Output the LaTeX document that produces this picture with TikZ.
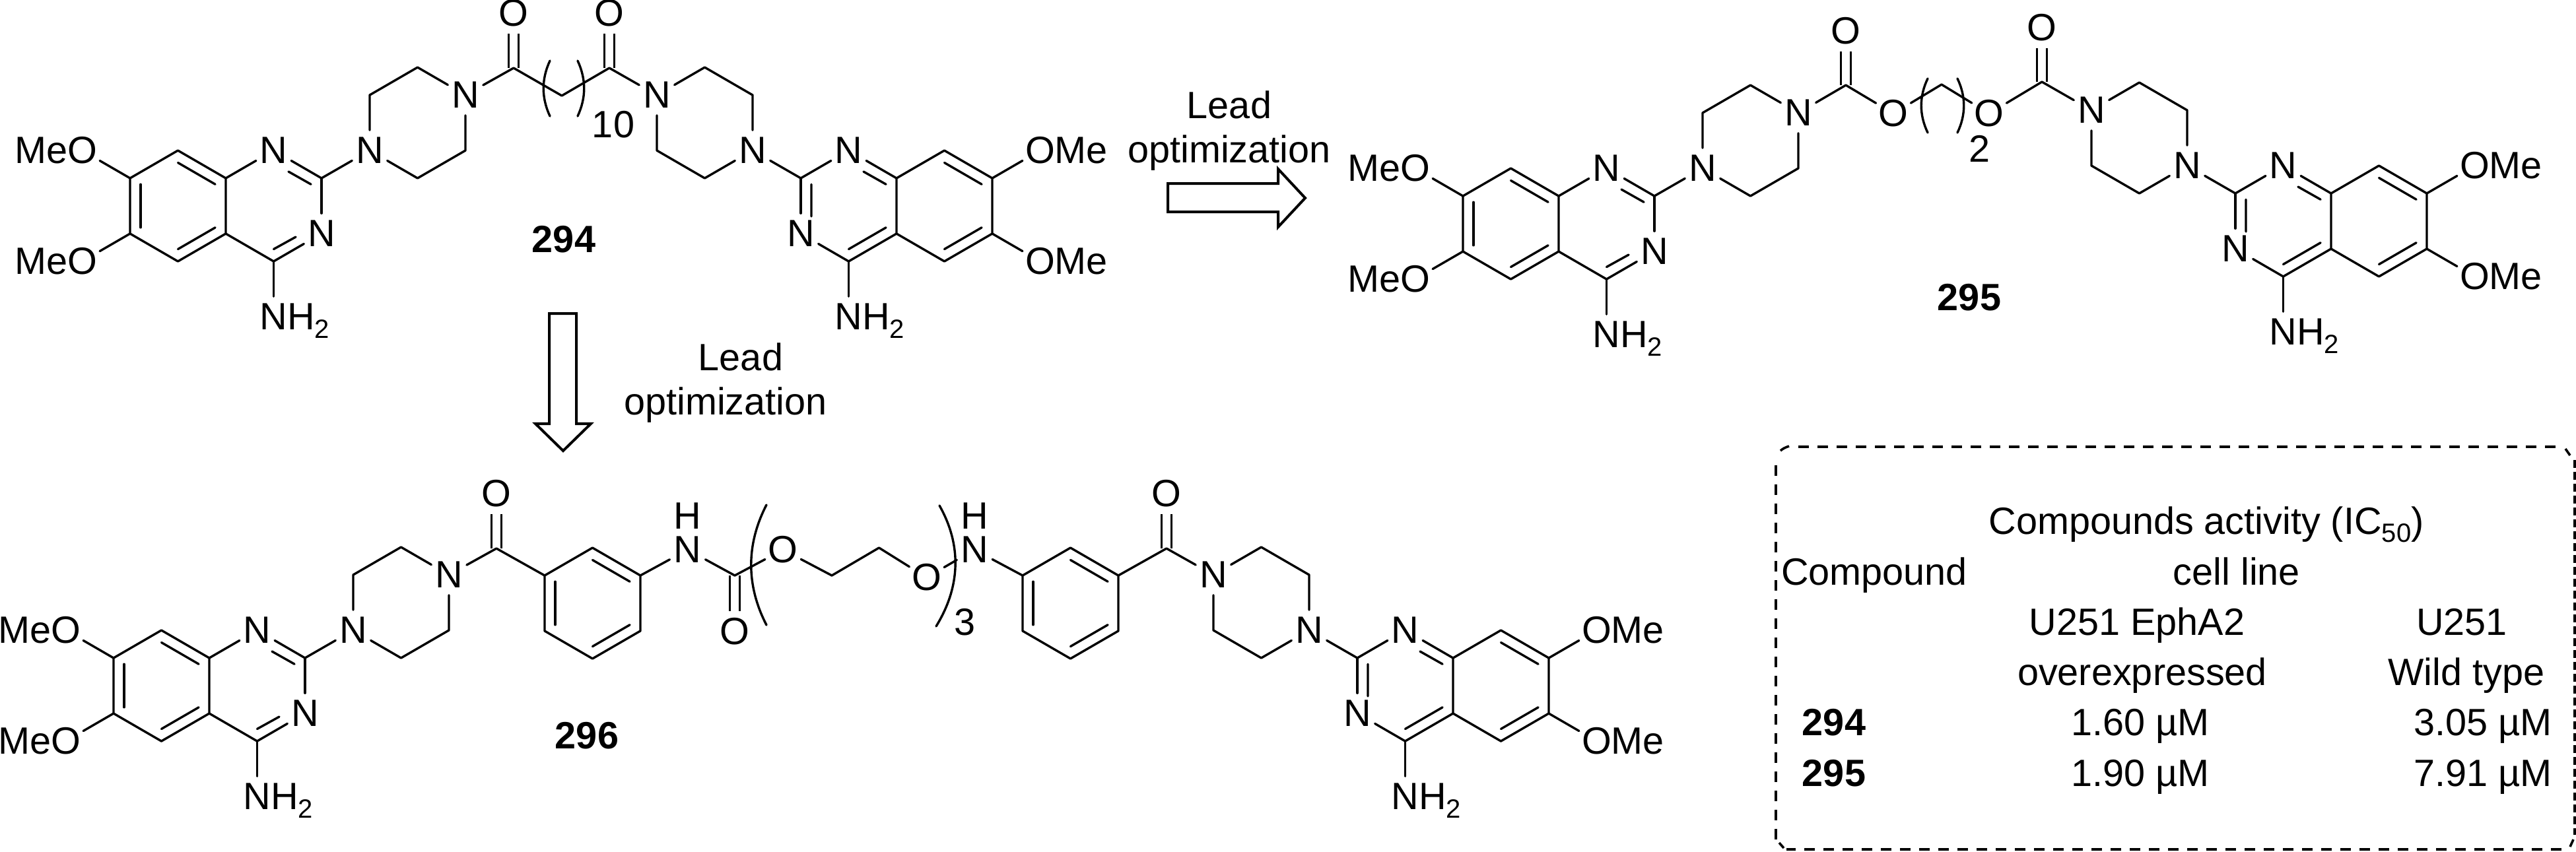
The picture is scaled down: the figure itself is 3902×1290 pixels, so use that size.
\documentclass[tikz,border=0pt]{standalone}
\usepackage{fontspec}
\setmainfont{Liberation Sans}
\usetikzlibrary{calc}
\newcommand\atomtxt[1]{\vphantom{N}\smash{#1}}
\newcommand\sbs[1]{\raisebox{-3.2pt}{\fontsize{10}{10}\selectfont #1}}
\tikzset{
  bond/.style={line width=0.85pt,line cap=round,line join=round},
  dbond/.style={line width=0.85pt,double,double distance=2.8pt},
  atom/.style={circle,inner sep=0pt,minimum size=15pt,font=\fontsize{14.4}{16}\selectfont},
  lab/.style={anchor=base,inner sep=0pt,font=\fontsize{14.4}{16}\selectfont},
  blab/.style={lab,font=\fontsize{14.4}{16}\selectfont\bfseries},
  blockarrow/.style={line width=1pt,line join=miter,fill=white},
  dashbox/.style={line width=0.9pt,dash pattern=on 4pt off 3.25pt},
  dashboxb/.style={line width=0.9pt,dash pattern=on 3pt off 1.5pt}
}
\newcommand\skeleton[6]{%
  \begin{scope}[shift={(#2,#3)},xscale=#4]
    \coordinate (#1C7) at (0,0);
    \coordinate (#1C6) at (0,84);
    \coordinate (#1C5) at (72.5,126);
    \coordinate (#1Ca) at (145,84);
    \coordinate (#1Cb) at (145,0);
    \coordinate (#1C8) at (72.5,-42);
    \coordinate (#1C2) at (290,0);
    \coordinate (#1C4) at (217.5,126);
    \coordinate (#1bc) at (72.5,42);
    \coordinate (#1pc) at (217.5,42);
    \node[atom] (#1N1) at (217.5,-42) {\atomtxt{N}};
    \node[atom] (#1N3) at (290,84) {\atomtxt{N}};
    \node[atom] (#1NH) at (217.5,210) {\atomtxt{N\rlap{H\sbs{2}}}};
    \node[atom] (#1Ou) at (-72.5,-42) {\atomtxt{#5}};
    \node[atom] (#1Ol) at (-72.5,126) {\atomtxt{#6}};
    \node[atom] (#1Pa) at (363,-42) {\atomtxt{N}};
    \coordinate (#1Pb) at (363,-126);
    \coordinate (#1Pc) at (435.5,-168);
    \node[atom] (#1Pd) at (508,-126) {\atomtxt{N}};
    \coordinate (#1Pe) at (508,-42);
    \coordinate (#1Pf) at (435.5,0);
    \draw[bond] (#1C8) -- (#1C7) -- (#1C6) -- (#1C5) -- (#1Ca) -- (#1Cb) -- (#1C8);
    \draw[bond] (#1Cb) -- (#1N1);
    \draw[bond] (#1N1) -- (#1C2);
    \draw[bond] (#1C2) -- (#1N3);
    \draw[bond] (#1N3) -- (#1C4);
    \draw[bond] (#1C4) -- (#1Ca);
    \draw[bond] (#1C4) -- (#1NH);
    \draw[bond] (#1C7) -- (#1Ou);
    \draw[bond] (#1C6) -- (#1Ol);
    \draw[bond] (#1C2) -- (#1Pa);
    \draw[bond] (#1Pa) -- (#1Pb) -- (#1Pc) -- (#1Pd);
    \draw[bond] (#1Pd) -- (#1Pe) -- (#1Pf) -- (#1Pa);
    \ifnum#4>0
      \draw[bond] ($(#1bc)!0.78!(#1C7)$) -- ($(#1bc)!0.78!(#1C6)$);
      \draw[bond] ($(#1bc)!0.78!(#1C8)$) -- ($(#1bc)!0.78!(#1Cb)$);
      \draw[bond] ($(#1bc)!0.78!(#1C5)$) -- ($(#1bc)!0.78!(#1Ca)$);
      \draw[bond] (240,-10) -- ($(#1pc)!0.78!(#1C2)$);
      \draw[bond] ($(#1pc)!0.78!(#1C4)$) -- (251,89);
    \else
      \draw[bond] ($(#1bc)!0.78!(#1C8)$) -- ($(#1bc)!0.78!(#1C7)$);
      \draw[bond] ($(#1bc)!0.78!(#1C6)$) -- ($(#1bc)!0.78!(#1C5)$);
      \draw[bond] ($(#1pc)!0.78!(#1Cb)$) -- (195,-10);
      \draw[bond] ($(#1pc)!0.78!(#1C2)$) -- (274,58);
      \draw[bond] ($(#1pc)!0.78!(#1C4)$) -- ($(#1pc)!0.78!(#1Ca)$);
    \fi
  \end{scope}}
\newcommand\inring[3]{\draw[bond] ($(#1)!0.78!(#2)$) -- ($(#1)!0.78!(#3)$);}
\newcommand\mea{\llap{Me}O}
\newcommand\meb{O\rlap{Me}}
\begin{document}
\begin{tikzpicture}[x=0.25pt,y=-0.25pt]
\useasboundingbox (0,0) rectangle (3902,1290);
\fill[white] (0,0) rectangle (3902,1290);

% ---------- 294
\skeleton{a}{197}{270}{1}{\mea}{\mea}
\skeleton{b}{1503}{270}{-1}{\meb}{\meb}
\coordinate (ac1) at (778,103);
\coordinate (ac2) at (851,145);
\coordinate (ac3) at (923,103);
\node[atom] (ao1) at (778,20) {\atomtxt{O}};
\node[atom] (ao2) at (923,20) {\atomtxt{O}};
\draw[dbond] (ac1) -- (ao1);
\draw[dbond] (ac3) -- (ao2);
\draw[bond] (aPd) -- (ac1) -- (ac2) -- (ac3) -- (bPd);
\draw[bond] (833,92) .. controls (820,120) and (820,148) .. (833,176);
\draw[bond] (875,92) .. controls (888,120) and (888,148) .. (875,176);
\node[lab] (an) at (929,208) {10};
\node[blab] (al) at (854,382) {294};

% ---------- 295
\skeleton{c}{2216}{297}{1}{\mea}{\mea}
\skeleton{d}{3676}{293}{-1}{\meb}{\meb}
\coordinate (cc1) at (2796,129);
\node[atom] (co1) at (2796,47) {\atomtxt{O}};
\node[atom] (co2) at (2868,172) {\atomtxt{O}};
\coordinate (cc2) at (2941,128);
\node[atom] (co3) at (3013,172) {\atomtxt{O}};
\coordinate (cc3) at (3093,124);
\node[atom] (co4) at (3093,42) {\atomtxt{O}};
\draw[dbond] (cc1) -- (co1);
\draw[dbond] (cc3) -- (co4);
\draw[bond] (cPd) -- (cc1);
\draw[bond] (cc1) -- (co2);
\draw[bond] (co2) -- (cc2);
\draw[bond] (cc2) -- (co3);
\draw[bond] (co3) -- (cc3);
\draw[bond] (cc3) -- (dPd);
\draw[bond] (2920,119) .. controls (2907,146) and (2907,174) .. (2920,201);
\draw[bond] (2965,119) .. controls (2978,146) and (2978,174) .. (2965,201);
\node[lab] (cn) at (2998,245) {2};
\node[blab] (cl) at (2983,470) {295};

% ---------- 296
\skeleton{e}{172}{997}{1}{\mea}{\mea}
\skeleton{f}{2346}{997}{-1}{\meb}{\meb}
\coordinate (ec1) at (752,831);
\node[atom] (eo1) at (752,748) {\atomtxt{O}};
\coordinate (er1) at (825,872);
\coordinate (er2) at (897.5,830);
\coordinate (er3) at (970,872);
\coordinate (er4) at (970,956);
\coordinate (er5) at (897.5,998);
\coordinate (er6) at (825,956);
\coordinate (ec) at (897.5,914);
\node[atom] (en1) at (1041.5,833) {\atomtxt{N}};
\node[atom] (eh1) at (1041.5,782) {\atomtxt{H}};
\coordinate (ec2) at (1113,872);
\node[atom] (eo2) at (1113,957) {\atomtxt{O}};
\node[atom] (eo3) at (1186,833) {\atomtxt{O}};
\coordinate (ec3) at (1260,872);
\coordinate (ec4) at (1331.5,830);
\node[atom] (eo4) at (1403.5,875) {\atomtxt{O}};
\node[atom] (en2) at (1476,833) {\atomtxt{N}};
\node[atom] (eh2) at (1476,782) {\atomtxt{H}};
\coordinate (es1) at (1549,872);
\coordinate (es2) at (1621.5,830);
\coordinate (es3) at (1694,872);
\coordinate (es4) at (1694,956);
\coordinate (es5) at (1621.5,998);
\coordinate (es6) at (1549,956);
\coordinate (esc) at (1621.5,914);
\coordinate (ec5) at (1767,831);
\node[atom] (eo5) at (1767,748) {\atomtxt{O}};
\draw[dbond] (ec1) -- (eo1);
\draw[dbond] (ec2) -- (eo2);
\draw[dbond] (ec5) -- (eo5);
\draw[bond] (ePd) -- (ec1) -- (er1);
\draw[bond] (er1) -- (er2) -- (er3) -- (er4) -- (er5) -- (er6) -- cycle;
\inring{ec}{er1}{er6}
\inring{ec}{er2}{er3}
\inring{ec}{er4}{er5}
\draw[bond] (er3) -- (en1);
\draw[bond] (en1) -- (ec2);
\draw[bond] (ec2) -- (eo3);
\draw[bond] (eo3) -- (ec3) -- (ec4) -- (eo4);
\draw[bond] (eo4) -- (en2);
\draw[bond] (en2) -- (es1);
\draw[bond] (es1) -- (es2) -- (es3) -- (es4) -- (es5) -- (es6) -- cycle;
\inring{esc}{es1}{es6}
\inring{esc}{es2}{es3}
\inring{esc}{es4}{es5}
\draw[bond] (es3) -- (ec5) -- (fPd);
\draw[bond] (1161,765) .. controls (1130,825) and (1130,887) .. (1161,947);
\draw[bond] (1423,766) .. controls (1457,826) and (1455,889) .. (1418,949);
\node[lab] (en) at (1462,962) {3};
\node[blab] (el) at (889,1134) {296};

% ---------- block arrows
\draw[blockarrow] (1769,278) -- (1936,278) -- (1936,256) -- (1977,300) -- (1936,344) -- (1936,321) -- (1769,321) -- cycle;
\draw[blockarrow] (832,475) -- (873,475) -- (873,642) -- (895,642) -- (853,683) -- (811,642) -- (832,642) -- cycle;
\node[lab] (t1) at (1862,179) {Lead};
\node[lab] (t2) at (1862,246) {optimization};
\node[lab] (t3) at (1122,561) {Lead};
\node[lab] (t4) at (1099,628) {optimization};

% ---------- table
\draw[dashbox] (2690,1272) -- (2690,695);
\draw[dashbox] (2697,683) .. controls (2700,680) and (2704,678) .. (2710,676);
\draw[dashbox] (2724,677) -- (3880,677);
\draw[dashbox] (3880,1287) -- (2706,1287);
\draw[dashbox] (2702,1285) -- (2695,1277);
\draw[dashbox] (3886,680) -- (3893,690);
\draw[dashbox] (3893,1283) -- (3898,1272);
\draw[dashboxb] (3900,697) -- (3900,1265);
\node[lab] (h1) at (3342,809) {Compounds activity (IC\sbs{50})};
\node[lab] (h2) at (2839,886) {Compound};
\node[lab] (h3) at (3388,886) {cell line};
\node[lab] (h4) at (3237,962) {U251 EphA2};
\node[lab] (h5) at (3729,962) {U251};
\node[lab] (h6) at (3245,1038) {overexpressed};
\node[lab] (h7) at (3736,1038) {Wild type};
\node[blab] (r1) at (2778,1114) {294};
\node[lab] (r2) at (3242,1114) {1.60 µM};
\node[lab] (r3) at (3761,1114) {3.05 µM};
\node[blab] (s1) at (2778,1191) {295};
\node[lab] (s2) at (3242,1191) {1.90 µM};
\node[lab] (s3) at (3761,1191) {7.91 µM};
\end{tikzpicture}
\end{document}
